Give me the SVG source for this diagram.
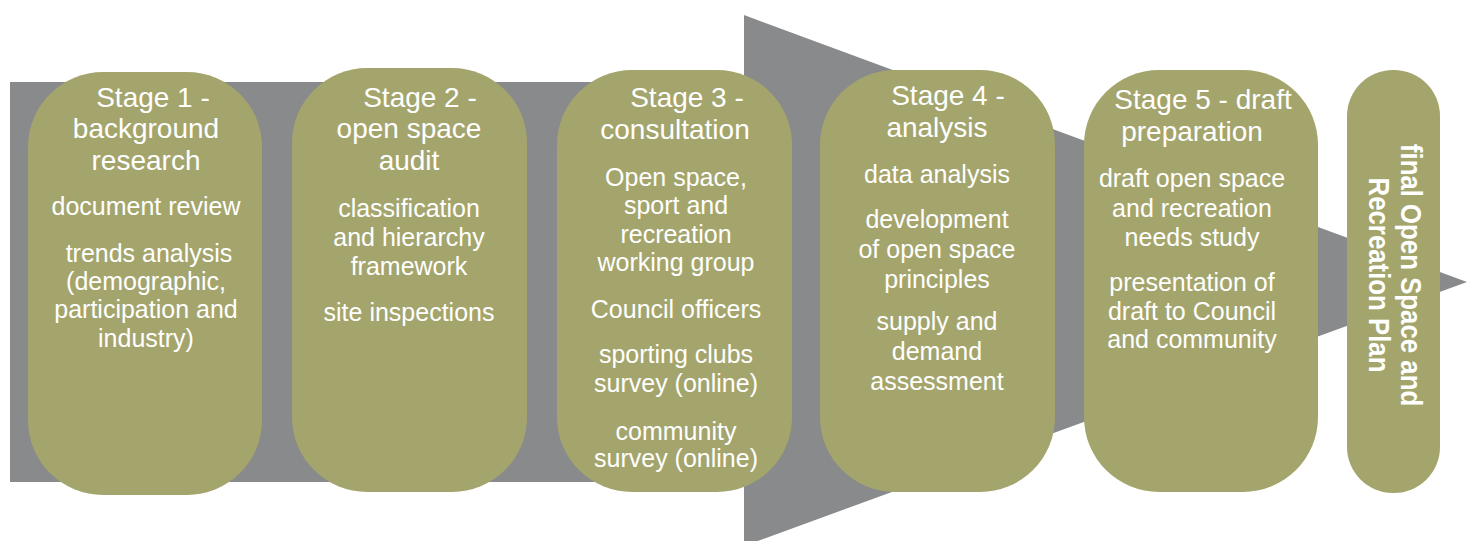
<svg xmlns="http://www.w3.org/2000/svg" width="1470" height="541" viewBox="0 0 1470 541">
<style>
.box{fill:#a4a56c}
.t{font-family:"Liberation Sans",Arial,sans-serif;fill:#ffffff;text-anchor:middle}
.h{font-size:28px}
.b{font-size:25px}
.f{font-family:"Liberation Sans",Arial,sans-serif;fill:#ffffff;text-anchor:middle;font-weight:bold;font-size:30px}
</style>
<rect width="1470" height="541" fill="#ffffff"/>
<g id="connectors">
<polygon id="process-arrow" points="10,82 744,82 744,15 1467,282 744,546 744,482 10,482" fill="#898a8c"/>
</g>
<g id="stage1">
<rect class="box" x="28" y="72" width="234" height="423" rx="75" ry="75"/>
<text class="t h" x="153" y="107">Stage 1 -</text>
<text class="t h" x="146" y="138">background</text>
<text class="t h" x="146" y="170">research</text>
<text class="t b" x="146" y="215">document review</text>
<text class="t b" x="149" y="262">trends analysis</text>
<text class="t b" x="146" y="290">(demographic,</text>
<text class="t b" x="146" y="318">participation and</text>
<text class="t b" x="146" y="347">industry)</text>
</g>
<g id="stage2">
<rect class="box" x="292" y="68" width="235" height="424" rx="75" ry="75"/>
<text class="t h" x="420" y="107">Stage 2 -</text>
<text class="t h" x="409" y="138">open space</text>
<text class="t h" x="409" y="170">audit</text>
<text class="t b" x="409" y="217">classification</text>
<text class="t b" x="409" y="246">and hierarchy</text>
<text class="t b" x="409" y="275">framework</text>
<text class="t b" x="409" y="321">site inspections</text>
</g>
<g id="stage3">
<rect class="box" x="557" y="70" width="235" height="422" rx="75" ry="75"/>
<text class="t h" x="687" y="107">Stage 3 -</text>
<text class="t h" x="675" y="139">consultation</text>
<text class="t b" x="676" y="186">Open space,</text>
<text class="t b" x="676" y="214">sport and</text>
<text class="t b" x="676" y="243">recreation</text>
<text class="t b" x="676" y="271">working group</text>
<text class="t b" x="676" y="318">Council officers</text>
<text class="t b" x="676" y="363">sporting clubs</text>
<text class="t b" x="676" y="392">survey (online)</text>
<text class="t b" x="676" y="440">community</text>
<text class="t b" x="676" y="467">survey (online)</text>
</g>
<g id="stage4">
<rect class="box" x="820" y="70" width="235" height="422" rx="75" ry="75"/>
<text class="t h" x="948" y="105">Stage 4 -</text>
<text class="t h" x="937" y="137">analysis</text>
<text class="t b" x="937" y="183">data analysis</text>
<text class="t b" x="937" y="228">development</text>
<text class="t b" x="937" y="258">of open space</text>
<text class="t b" x="937" y="288">principles</text>
<text class="t b" x="937" y="330">supply and</text>
<text class="t b" x="937" y="360">demand</text>
<text class="t b" x="937" y="390">assessment</text>
</g>
<g id="stage5">
<rect class="box" x="1084" y="70" width="234" height="422" rx="75" ry="75"/>
<text class="t h" x="1203" y="109">Stage 5 - draft</text>
<text class="t h" x="1192" y="141">preparation</text>
<text class="t b" x="1192" y="187">draft open space</text>
<text class="t b" x="1192" y="217">and recreation</text>
<text class="t b" x="1192" y="246">needs study</text>
<text class="t b" x="1192" y="291">presentation of</text>
<text class="t b" x="1192" y="320">draft to Council</text>
<text class="t b" x="1192" y="348">and community</text>
</g>
<g id="final-plan">
<rect class="box" x="1347" y="70" width="93" height="423" rx="46" ry="46"/>
<g transform="translate(1401,275) rotate(90)">
<text class="f" transform="scale(0.86,1)" x="0" y="0">final Open Space and</text>
<text class="f" transform="scale(0.86,1)" x="0" y="32">Recreation Plan</text>
</g>
</g>
</svg>
